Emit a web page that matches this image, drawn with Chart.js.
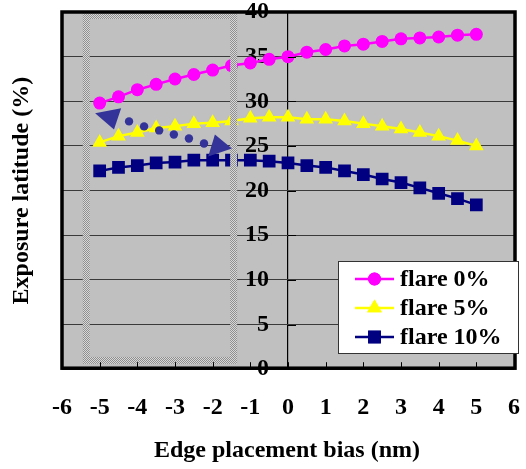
<!DOCTYPE html>
<html><head><meta charset="utf-8">
<script src="https://cdn.jsdelivr.net/npm/chart.js@4/dist/chart.umd.min.js"></script>
<style>html,body{margin:0;padding:0;background:#fff;}#wrap{width:526px;height:469px;}</style>
</head><body><div id="wrap"><canvas id="c" width="526" height="469"></canvas></div>
<script>
// ---- data ----
const biasNm  = [-5,-4.5,-4,-3.5,-3,-2.5,-2,-1.5,-1,-0.5,0,0.5,1,1.5,2,2.5,3,3.5,4,4.5,5];
const flare0  = [29.8,30.5,31.3,31.9,32.5,33.0,33.5,34.0,34.3,34.7,35.0,35.5,35.8,36.2,36.4,36.7,37.0,37.1,37.2,37.4,37.5];
const flare5  = [25.4,26.1,26.5,27.0,27.2,27.5,27.6,27.8,28.1,28.2,28.2,28.0,28.0,27.8,27.5,27.2,26.9,26.5,26.1,25.6,25.0];
const flare10 = [22.2,22.6,22.8,23.1,23.2,23.4,23.4,23.4,23.4,23.3,23.1,22.8,22.6,22.2,21.8,21.3,20.9,20.3,19.7,19.1,18.4];
const seriesLabels = ['flare 0%','flare 5%','flare 10%'];
const xTitle = 'Edge placement bias (nm)';
const yTitle = 'Exposure latitude (%)';
// annotation (data coordinates): highlighted region and dotted arrow
const regionX = [-5.45, -1.35];
const regionY = [0.6, 40];
const arrowDotsX = [-4.22,-3.82,-3.42,-3.03,-2.63,-2.23];
const arrowDotsY = [27.75,27.19,26.74,26.29,25.84,25.28];
const headStartX = [-5.12,-4.43,-4.62];
const headStartY = [28.65,29.21,26.85];
const headEndX = [-1.94,-1.49,-2.12];
const headEndY = [26.29,24.72,23.82];

const FONT = '"Liberation Serif","Times New Roman",serif';
const toPts = (ys) => ys.map((y,i)=>({x:biasNm[i], y}));

function makePattern(ctx){
  const p = document.createElement('canvas'); p.width=2; p.height=2;
  const g = p.getContext('2d');
  g.fillStyle='#d8d8d8'; g.fillRect(0,0,2,2);
  g.fillStyle='#8e8e8e'; g.fillRect(0,0,1,1); g.fillRect(1,1,1,1);
  return ctx.createPattern(p,'repeat');
}

const decor = {
  id:'decor',
  beforeDraw(chart){
    const {ctx, chartArea:a} = chart;
    ctx.save(); ctx.fillStyle='#c0c0c0'; ctx.fillRect(a.left,a.top,a.right-a.left,a.bottom-a.top); ctx.restore();
  },
  afterDatasetsDraw(chart){
    const {ctx, scales:{x,y}} = chart;
    ctx.save();
    const bw = 7;
    const l = x.getPixelForValue(regionX[0]), r = x.getPixelForValue(regionX[1]);
    const t = y.getPixelForValue(regionY[1]), b = y.getPixelForValue(regionY[0]);
    ctx.strokeStyle = makePattern(ctx); ctx.lineWidth = bw;
    ctx.strokeRect(l+bw/2, t+bw/2, r-l-bw, b-t-bw);
    ctx.fillStyle = '#333399';
    arrowDotsX.forEach((dx,i)=>{ ctx.beginPath(); ctx.arc(x.getPixelForValue(dx), y.getPixelForValue(arrowDotsY[i]), 4.2, 0, Math.PI*2); ctx.fill(); });
    [[headStartX,headStartY],[headEndX,headEndY]].forEach(([hx,hy])=>{
      ctx.beginPath();
      hx.forEach((vx,i)=>{ const px=x.getPixelForValue(vx), py=y.getPixelForValue(hy[i]); i?ctx.lineTo(px,py):ctx.moveTo(px,py); });
      ctx.closePath(); ctx.fill();
    });
    ctx.restore();
  },
  afterDraw(chart){
    const {ctx, chartArea:a, scales:{x,y}} = chart;
    ctx.save();
    ctx.strokeStyle='#000'; ctx.lineWidth=1;
    const x0 = Math.round(x.getPixelForValue(0));
    y.ticks.forEach(tk=>{ const py=Math.round(y.getPixelForValue(tk.value))+0.5; ctx.beginPath(); ctx.moveTo(x0,py); ctx.lineTo(x0+8,py); ctx.stroke(); });
    x.ticks.forEach(tk=>{ const px=Math.round(x.getPixelForValue(tk.value))+0.5; ctx.beginPath(); ctx.moveTo(px,a.bottom); ctx.lineTo(px,a.bottom-7); ctx.stroke(); });
    ctx.lineWidth=3.5; ctx.strokeStyle='#000';
    ctx.strokeRect(a.left, a.top, a.right-a.left+1, a.bottom-a.top-1);
    // legend
    const lx=338, ly=261, lw=180, lh=92;
    ctx.fillStyle='#fff'; ctx.fillRect(lx,ly,lw,lh);
    ctx.lineWidth=1; ctx.strokeStyle='#333'; ctx.strokeRect(lx+0.5,ly+0.5,lw,lh);
    chart.data.datasets.forEach((ds,i)=>{
      const cy = 279 + i*29;
      ctx.strokeStyle=ds.borderColor; ctx.lineWidth=2.5;
      ctx.beginPath(); ctx.moveTo(355,cy); ctx.lineTo(394,cy); ctx.stroke();
      ctx.fillStyle=ds.pointBackgroundColor;
      Chart.helpers.drawPoint(ctx,{pointStyle:ds.pointStyle, radius:ds.pointRadius, borderWidth:0}, 374.5, cy);
      ctx.fill();
      ctx.fillStyle='#000'; ctx.font='bold 24px '+FONT; ctx.textBaseline='middle'; ctx.textAlign='left';
      ctx.fillText(ds.label, 400, cy+1);
    });
    // axis titles
    ctx.fillStyle='#000'; ctx.font='bold 24px '+FONT; ctx.textAlign='center'; ctx.textBaseline='middle';
    ctx.fillText(xTitle, 287, 451);
    ctx.translate(22, (a.top+a.bottom)/2); ctx.rotate(-Math.PI/2);
    ctx.fillText(yTitle, 0, 0);
    ctx.restore();
  }
};

const mk = (label, data, color, style, radius) => ({
  label, data: toPts(data), borderColor: color, backgroundColor: color,
  pointBackgroundColor: color, pointBorderColor: color, pointBorderWidth: 0,
  pointStyle: style, pointRadius: radius, borderWidth: 2.5, tension: 0, showLine: true
});

new Chart(document.getElementById('c'), {
  type: 'scatter',
  data: { datasets: [
    mk(seriesLabels[0], flare0, '#ff00ff', 'circle', 6.5),
    mk(seriesLabels[1], flare5, '#ffff00', 'triangle', 8.5),
    mk(seriesLabels[2], flare10, '#000080', 'rect', 9)
  ]},
  options: {
    responsive:false, animation:false, devicePixelRatio:1,
    layout:{padding:{left:62,right:12,top:12,bottom:23}},
    plugins:{legend:{display:false}, tooltip:{enabled:false}},
    scales:{
      x:{ type:'linear', position:'bottom', min:-6, max:6,
          afterFit:(s)=>{ s.paddingLeft = 0; s.paddingRight = 0; },
          ticks:{stepSize:1, color:'#000', padding:24, maxRotation:0, autoSkip:false, font:{family:FONT, size:24, weight:'bold'}},
          grid:{display:true, drawTicks:false, lineWidth:1.2,
                color:(c)=> (c.tick && c.tick.value===0) ? '#000' : 'rgba(0,0,0,0)'},
          border:{display:false} },
      y:{ type:'linear', position:'right', min:0, max:40,
          afterFit:(s)=>{ s.width = 0; s.paddingTop = 0; s.paddingBottom = 0; s.paddingLeft = 0; s.paddingRight = 0; },
          ticks:{stepSize:5, color:'#000', mirror:true, padding:-245, autoSkip:false, font:{family:FONT, size:24, weight:'bold', lineHeight:1}},
          grid:{color:'#3a3a3a', lineWidth:1, drawTicks:false}, border:{display:false} }
    }
  },
  plugins:[decor]
});
</script></body></html>
